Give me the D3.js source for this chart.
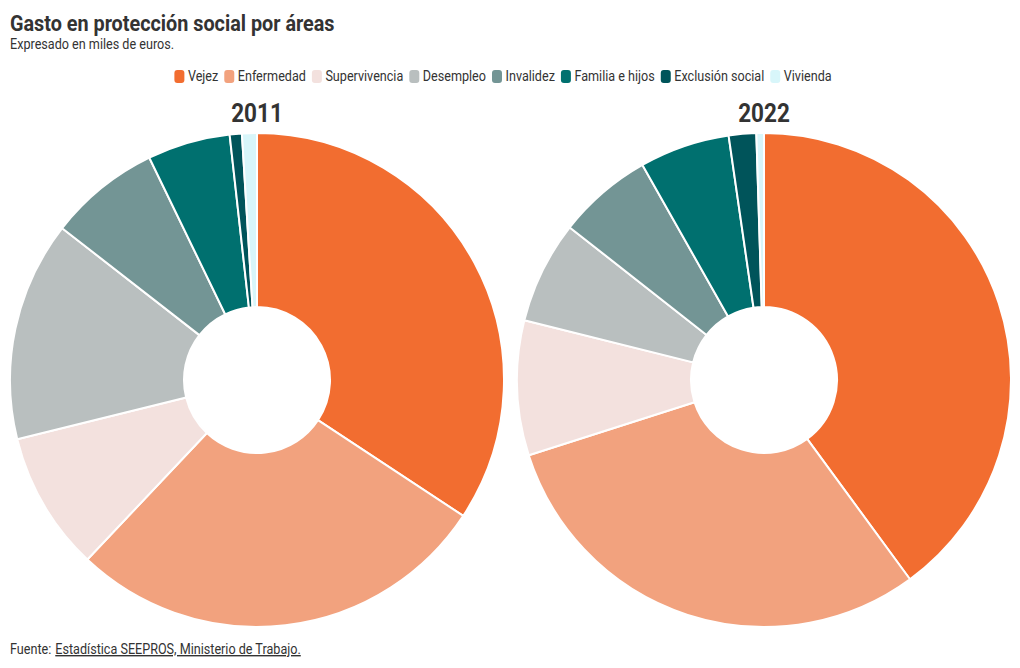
<!DOCTYPE html>
<html><head><meta charset="utf-8">
<script src="https://cdn.jsdelivr.net/npm/d3@7"></script>
<style>
body{margin:0;background:#fff;}
svg{display:block;font-family:Roboto,"Noto Sans",sans-serif;}
</style></head>
<body><svg id="c" width="1020" height="668"></svg>
<script>
const categories = ["Vejez","Enfermedad","Supervivencia","Desempleo","Invalidez","Familia e hijos","Exclusión social","Vivienda"];
const years = ["2011","2022"];
// miles de euros (estimados a partir del gráfico)
const values2011 = [95000000, 77000000, 25200000, 39900000, 20200000, 15000000, 2200000, 2700000];
const values2022 = [153600000, 115900000, 33900000, 25800000, 23900000, 22700000, 6900000, 1900000];
const colors = ["#F26D30","#F2A27E","#F3E1DE","#B9BFBF","#739595","#00706F","#00545A","#D8F6FA"];

const svg = d3.select("#c");
const COND = 0.9; // emulate condensed face

function condText(sel){
  let w = 0;
  sel.each(function(){
    w = this.getComputedTextLength() * COND;
    d3.select(this).attr("textLength", w).attr("lengthAdjust","spacingAndGlyphs");
  });
  return w;
}

condText(svg.append("text").attr("x",10).attr("y",31).attr("font-size",22).attr("font-weight",700)
  .attr("fill","#333").text("Gasto en protección social por áreas"));
condText(svg.append("text").attr("x",10).attr("y",49).attr("font-size",14)
  .attr("fill","#333").text("Expresado en miles de euros."));

// footer
const fw = condText(svg.append("text").attr("x",10).attr("y",654).attr("font-size",14).attr("fill","#333").text("Fuente:"));
condText(svg.append("text").attr("x",10 + fw + 4).attr("y",654).attr("font-size",14).attr("fill","#333")
  .attr("text-decoration","underline").text("Estadística SEEPROS, Ministerio de Trabajo."));

// legend
const color = d3.scaleOrdinal().domain(categories).range(colors);
const lg = svg.append("g");
let lx = 0;
categories.forEach(c=>{
  const g = lg.append("g").attr("transform",`translate(${lx},0)`);
  g.append("rect").attr("x",0).attr("y",-11).attr("width",10).attr("height",13).attr("rx",3).attr("fill",color(c));
  const w = condText(g.append("text").attr("x",13.5).attr("y",0).attr("font-size",14).attr("fill","#333").text(c));
  lx += 13.5 + w + 6;
});
lx -= 6;
lg.attr("transform",`translate(${503 - lx/2},81)`);

// donuts
const R = 247, r0 = 73;
const pie = d3.pie().sort(null).value(d=>d.v);
const arc = d3.arc().innerRadius(r0).outerRadius(R);
const centers = d3.scalePoint().domain(years).range([257,764]);
[[years[0],values2011],[years[1],values2022]].forEach(([yr,vals])=>{
  const data = categories.map((c,i)=>({c, v: vals[i]}));
  const g = svg.append("g").attr("transform",`translate(${centers(yr)},380)`);
  g.selectAll("path").data(pie(data)).join("path")
    .attr("d",arc).attr("fill",d=>color(d.data.c))
    .attr("stroke","#fff").attr("stroke-width",2).attr("stroke-linejoin","round");
  condText(svg.append("text").attr("x",centers(yr)).attr("y",122).attr("text-anchor","middle")
    .attr("font-size",25).attr("font-weight",700).attr("fill","#333").text(yr));
});
</script></body></html>
